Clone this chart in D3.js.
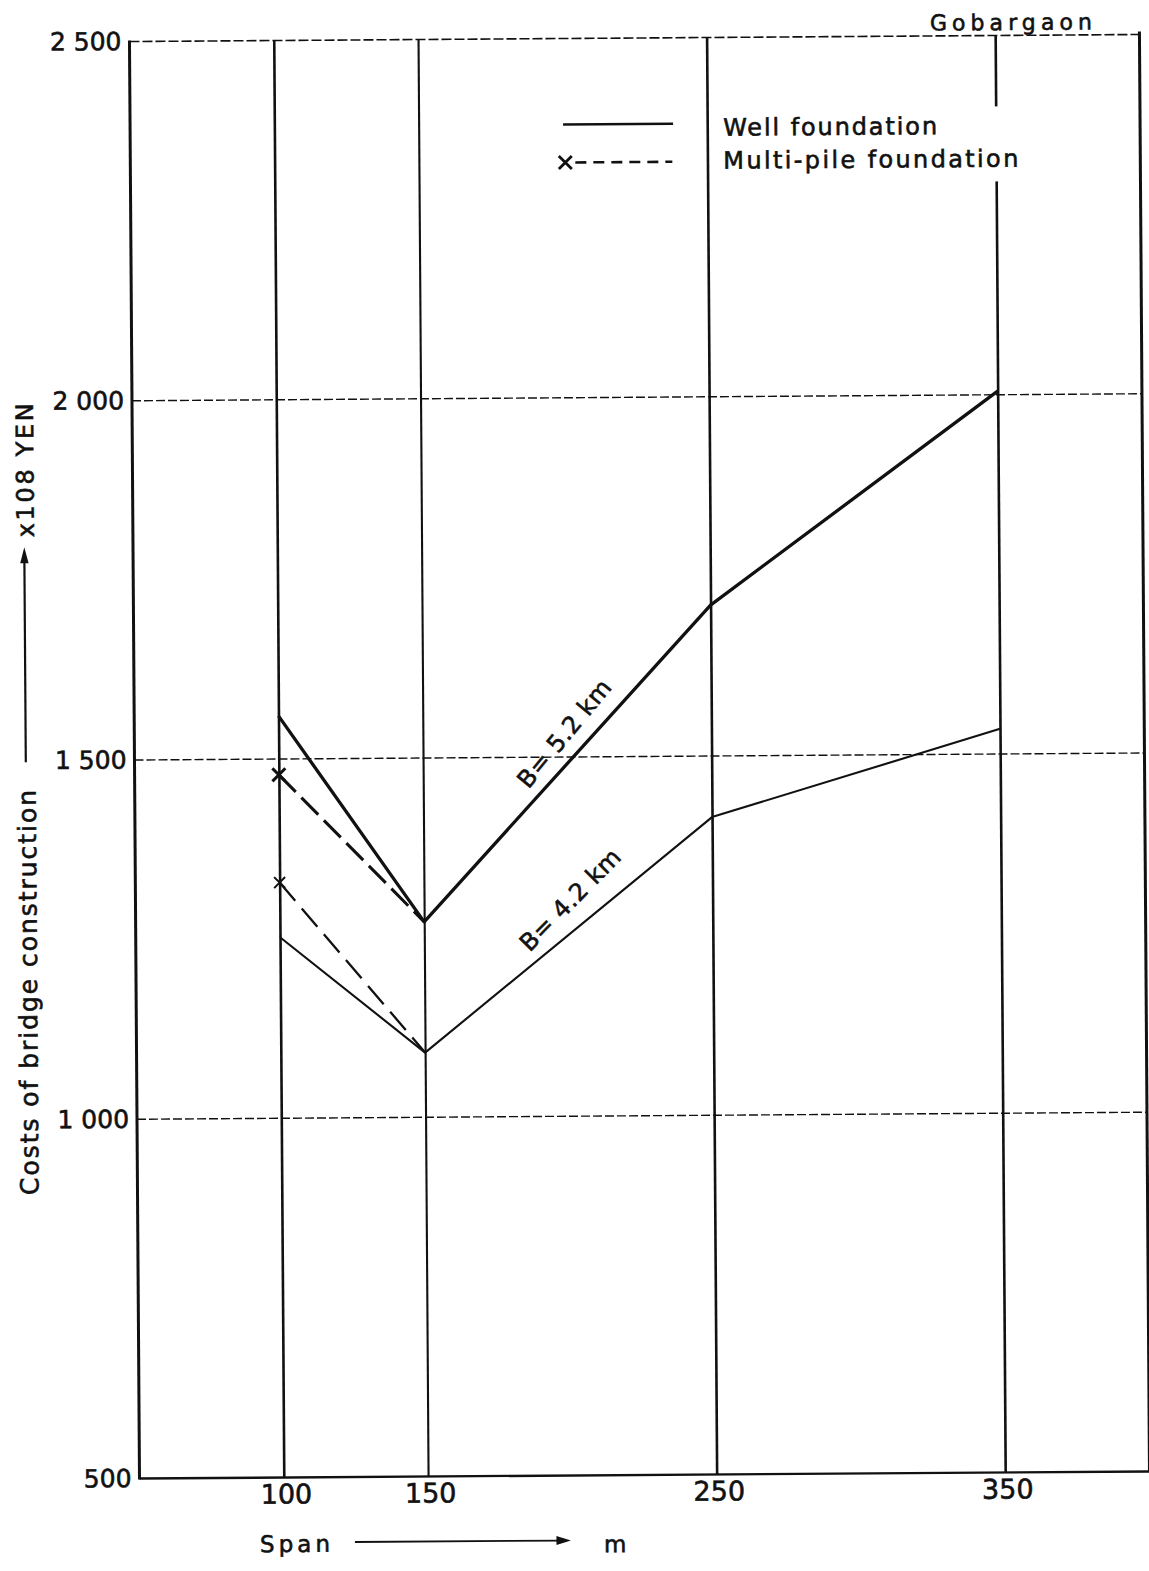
<!DOCTYPE html>
<html><head><meta charset="utf-8">
<script src="https://cdn.jsdelivr.net/npm/d3@7"></script>
<style>
html,body{margin:0;padding:0;background:#fff;}
svg{display:block;}
text{font-family:"DejaVu Sans",sans-serif;fill:#111;stroke:#111;stroke-width:0.6px;}
</style></head><body>
<svg id="chart" width="1149" height="1571"></svg>
<script>
// ---- data ----
const spans = [100, 150, 250, 350];
const well52 = [1560, 1272, 1710, 2005];   // Well foundation, B = 5.2 km
const well42 = [1252, 1090, 1415, 1535];   // Well foundation, B = 4.2 km
const multiSpans = [100, 150];
const multi52 = [1478, 1272];              // Multi-pile foundation, B = 5.2 km
const multi42 = [1328, 1090];              // Multi-pile foundation, B = 4.2 km
const xTickValues = [100, 150, 250, 350];
const yTickValues = [500, 1000, 1500, 2000, 2500];
const yTickLabels = ["500", "1 000", "1 500", "2 000", "2 500"];
const gridValues = [1000, 1500, 2000];
const legendLabels = ["Well foundation", "Multi-pile foundation"];
const curveLabels = ["B= 5.2 km", "B= 4.2 km"];
const titleText = "Gobargaon";
const yTitle = "Costs of bridge construction";
const yUnit = "x108 YEN";
const xTitle = "Span";
const xUnit = "m";

// ---- drawing ----
const svg = d3.select("#chart");
const g = svg.append("g").attr("transform", "rotate(-0.4,640,760)");
const ink = "#111";

const x = d3.scaleLinear().domain([50, 400]).range([134.5, 1144.5]);
const y = d3.scaleLinear().domain([500, 2500]).range([1475, 38]);
const [x0, x1] = x.range();
const yTop = y(2500), yBot = y(500);

// horizontal grid
g.selectAll("line.hgrid").data(gridValues).join("line").attr("class", "hgrid")
  .attr("x1", x0).attr("x2", x1).attr("y1", d => y(d)).attr("y2", d => y(d))
  .attr("stroke", ink).attr("stroke-width", 1.4).attr("stroke-dasharray", "9,3");
// top frame line
g.append("line").attr("x1", x0).attr("x2", x1 + 2).attr("y1", yTop).attr("y2", yTop)
  .attr("stroke", ink).attr("stroke-width", 1.6).attr("stroke-dasharray", "10,3");

// x axis (vertical lines at span values + labels)
const vWidths = [2.6, 2.1, 2.6, 2.6];
const xAxis = d3.axisBottom(x).tickValues(xTickValues).tickSize(yBot - yTop)
  .tickFormat(d3.format("d"));
const gx = g.append("g").attr("transform", `translate(0,${yTop})`).call(xAxis);
gx.select(".domain").remove();
gx.selectAll(".tick line").attr("stroke", ink).attr("stroke-width", (d, i) => vWidths[i]);
gx.selectAll(".tick text").attr("y", yBot - yTop + 26).attr("dy", 0).attr("dx", 2)
  .style("font-size", "27px").style("font-family", "DejaVu Sans").attr("fill", ink);

// y axis labels
const yAxis = d3.axisLeft(y).tickValues(yTickValues).tickSize(0).tickPadding(8)
  .tickFormat((d, i) => yTickLabels[i]);
const gy = g.append("g").attr("transform", `translate(${x0},0)`).call(yAxis);
gy.select(".domain").remove();
gy.selectAll(".tick text").style("font-size", "25px").style("font-family", "DejaVu Sans").attr("fill", ink);

// frame: left axis, right edge, bottom axis
g.append("line").attr("x1", x0).attr("x2", x0).attr("y1", yTop - 1).attr("y2", yBot + 1)
  .attr("stroke", ink).attr("stroke-width", 3);
g.append("line").attr("x1", x1).attr("x2", x1).attr("y1", yTop - 3).attr("y2", yBot)
  .attr("stroke", ink).attr("stroke-width", 3);
g.append("line").attr("x1", x0).attr("x2", x1).attr("y1", yBot).attr("y2", yBot)
  .attr("stroke", ink).attr("stroke-width", 2.4);

// legend (white box interrupts the 350 line as in the original)
g.append("rect").attr("x", 720).attr("y", 109).attr("width", 310).attr("height", 75).attr("fill", "#fff");
g.append("line").attr("x1", 567.5).attr("x2", 677.5).attr("y1", 124).attr("y2", 124)
  .attr("stroke", ink).attr("stroke-width", 2.6);
g.append("line").attr("x1", 579.5).attr("x2", 676.5).attr("y1", 162).attr("y2", 162)
  .attr("stroke", ink).attr("stroke-width", 2.6).attr("stroke-dasharray", "11,7");
function cross(cx, cy, r, w) {
  g.append("path").attr("d", `M${cx - r},${cy - r}L${cx + r},${cy + r}M${cx - r},${cy + r}L${cx + r},${cy - r}`)
    .attr("stroke", ink).attr("stroke-width", w).attr("fill", "none");
}
cross(569.5, 162, 6.5, 2.8);
g.selectAll("text.leg").data(legendLabels).join("text").attr("class", "leg")
  .attr("x", 727.5).attr("y", (d, i) => 136.3 + i * 33)
  .attr("textLength", (d, i) => [214, 295][i]).attr("lengthAdjust", "spacing")
  .style("font-size", "24px").text(d => d);

// title
g.append("text").attr("x", 935).attr("y", 32.6).attr("textLength", 162).attr("lengthAdjust", "spacing")
  .style("font-size", "22px").text(titleText);

// series
const line = d3.line().x((d, i) => x(spans[i])).y(d => y(d));
const mline = d3.line().x((d, i) => x(multiSpans[i])).y(d => y(d));
g.append("path").attr("d", line(well52)).attr("fill", "none").attr("stroke", ink)
  .attr("stroke-width", 3.3).attr("stroke-linejoin", "round");
g.append("path").attr("d", line(well42)).attr("fill", "none").attr("stroke", ink)
  .attr("stroke-width", 2.1).attr("stroke-linejoin", "round");
g.append("path").attr("d", mline(multi52)).attr("fill", "none").attr("stroke", ink)
  .attr("stroke-width", 3).attr("stroke-dasharray", "24,8");
g.append("path").attr("d", mline(multi42)).attr("fill", "none").attr("stroke", ink)
  .attr("stroke-width", 2.3).attr("stroke-dasharray", "24,10");
cross(x(multiSpans[0]), y(multi52[0]), 6.5, 3);
cross(x(multiSpans[0]), y(multi42[0]), 5.5, 2);

// curve labels placed along the rising segments
function interp(vals, s) {
  const i = d3.bisectRight(spans, s) - 1;
  const t = (s - spans[i]) / (spans[i + 1] - spans[i]);
  return vals[i] + t * (vals[i + 1] - vals[i]);
}
const labelSpan = 186.5;
[[well52, -16.5, -50], [well42, -14, -45]].forEach(([vals, off, ang], i) => {
  const lx = x(labelSpan), ly = y(interp(vals, labelSpan)) + off;
  g.append("text").attr("transform", `translate(${lx},${ly}) rotate(${ang})`)
    .attr("textLength", 132).attr("lengthAdjust", "spacing")
    .style("font-size", "24px").text(curveLabels[i]);
});

// y title with arrow
g.append("text").attr("transform", "translate(35.5,1190.7) rotate(-90)")
  .attr("textLength", 405).attr("lengthAdjust", "spacing").style("font-size", "25px").text(yTitle);
g.append("text").attr("transform", "translate(35.5,533) rotate(-90)")
  .attr("textLength", 134).attr("lengthAdjust", "spacing").style("font-size", "24px").text(yUnit);
g.append("line").attr("x1", 25.8).attr("x2", 25.8).attr("y1", 758).attr("y2", 552)
  .attr("stroke", ink).attr("stroke-width", 2.2);
g.append("path").attr("d", "M25.8,543L30,559L21.6,559Z").attr("fill", ink);

// x title with arrow
g.append("text").attr("x", 254.5).attr("y", 1549.5).attr("textLength", 70).attr("lengthAdjust", "spacing")
  .style("font-size", "23px").text(xTitle);
g.append("line").attr("x1", 349.5).attr("x2", 556).attr("y1", 1540).attr("y2", 1540)
  .attr("stroke", ink).attr("stroke-width", 1.8);
g.append("path").attr("d", "M565.5,1540L551,1544.5L551,1535.5Z").attr("fill", ink);
g.append("text").attr("x", 598.5).attr("y", 1552).style("font-size", "23px").text(xUnit);
</script>
</body></html>
